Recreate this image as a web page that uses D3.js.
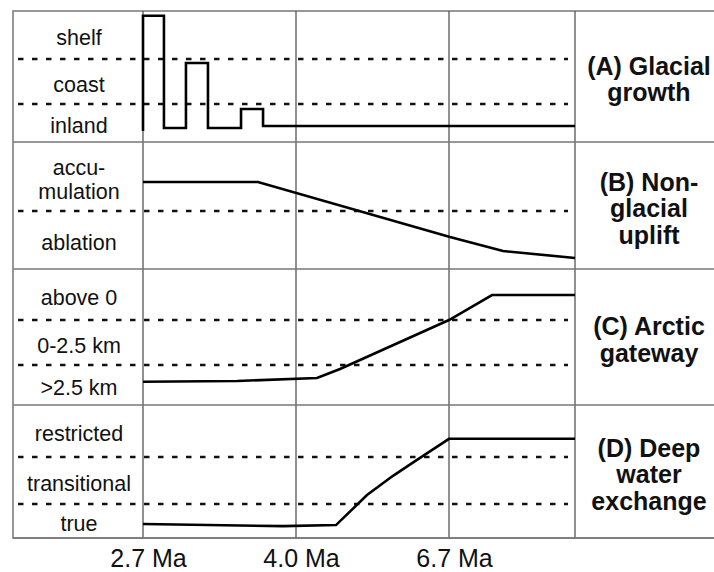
<!DOCTYPE html>
<html>
<head>
<meta charset="utf-8">
<script src="https://cdn.jsdelivr.net/npm/d3@7"></script>
<style>
  body { margin: 0; background: #fff; }
  text { font-family: "Liberation Sans", Arial, sans-serif; fill: #111; }
</style>
</head>
<body>
<script>
// age axis (Ma) - ticks are evenly spaced, not proportional
var tickAges = [2.7, 4.0, 6.7];
var endAge = 9.0;

// category labels per panel, bottom to top
var levelsA = [["inland"], ["coast"], ["shelf"]];
var levelsB = [["ablation"], ["accu-", "mulation"]];
var levelsC = [[">2.5 km"], ["0-2.5 km"], ["above 0"]];
var levelsD = [["true"], ["transitional"], ["restricted"]];

var titleA = ["(A) Glacial", "growth"];
var titleB = ["(B) Non-", "glacial", "uplift"];
var titleC = ["(C) Arctic", "gateway"];
var titleD = ["(D) Deep", "water", "exchange"];

// series (age in Ma, level in category units)
var glacialAge   = [2.7, 2.7, 2.878, 3.065, 3.252, 3.533, 3.72, 9.0];
var glacialLevel = [0.29, 2.9, 0.37, 1.91, 0.37, 0.87, 0.42, 0.42];

var upliftAge   = [2.7, 3.677, 6.718, 7.686, 9.0];
var upliftLevel = [1.42, 1.42, 0.55, 0.31, 0.19];

var gatewayAge   = [2.7, 3.499, 4.371, 4.777, 6.7, 7.485, 9.0];
var gatewayLevel = [0.58, 0.6, 0.675, 0.9, 2.0, 2.49, 2.49];

var exchangeAge   = [2.7, 3.89, 4.706, 5.253, 5.712, 6.135, 6.7, 9.0];
var exchangeLevel = [0.41, 0.35, 0.38, 1.19, 1.6, 1.94, 2.35, 2.35];

var svgWidth = 714;
var svgHeight = 572;

var frame = { left: 13, top: 11, right: 716, bottom: 538 };
var labelX = 79;
var titleX = 649;

var svg = d3.select("body").append("svg")
  .attr("width", svgWidth)
  .attr("height", svgHeight);

var x = d3.scaleLinear()
  .domain([2.7, 4.0, 6.7, endAge])
  .range([143, 296, 449, 575]);

// pixel cut positions of each panel: bottom, dashed lines..., top
var panels = [
  { levels: levelsA, title: titleA, age: glacialAge, level: glacialLevel, curve: d3.curveStepAfter, cuts: [142, 104, 59, 11] },
  { levels: levelsB, title: titleB, age: upliftAge, level: upliftLevel, curve: d3.curveLinear, cuts: [269, 211, 142] },
  { levels: levelsC, title: titleC, age: gatewayAge, level: gatewayLevel, curve: d3.curveLinear, cuts: [405, 365, 320, 269] },
  { levels: levelsD, title: titleD, age: exchangeAge, level: exchangeLevel, curve: d3.curveLinear, cuts: [538, 504, 457, 405] }
];

// frame
svg.append("rect")
  .attr("x", frame.left)
  .attr("y", frame.top)
  .attr("width", frame.right - frame.left)
  .attr("height", frame.bottom - frame.top)
  .attr("fill", "none")
  .attr("stroke", "#777")
  .attr("stroke-width", 1.5);

// vertical grid lines
svg.append("g").selectAll("line")
  .data(tickAges.concat([endAge]))
  .join("line")
  .attr("x1", d => x(d)).attr("x2", d => x(d))
  .attr("y1", frame.top).attr("y2", frame.bottom)
  .attr("stroke", "#555")
  .attr("stroke-width", 1.3);

panels.forEach(function(p) {
  var n = p.levels.length;
  var y = d3.scaleLinear()
    .domain(d3.range(n + 1))
    .range(p.cuts);
  var g = svg.append("g");

  // panel separator
  g.append("line")
    .attr("x1", frame.left).attr("x2", frame.right)
    .attr("y1", y(0)).attr("y2", y(0))
    .attr("stroke", "#777")
    .attr("stroke-width", 1.5);

  // dashed category boundaries
  g.selectAll(".dash")
    .data(d3.range(1, n))
    .join("line")
    .attr("class", "dash")
    .attr("x1", 18).attr("x2", 568)
    .attr("y1", d => y(d)).attr("y2", d => y(d))
    .attr("stroke", "#111")
    .attr("stroke-width", 2.5)
    .attr("stroke-dasharray", "5.5,8.5");

  // category labels
  p.levels.forEach(function(lines, i) {
    var c = (y(i) + y(i + 1)) / 2;
    var t = g.append("text")
      .attr("text-anchor", "middle")
      .attr("font-size", 21.5);
    lines.forEach(function(s, k) {
      t.append("tspan")
        .attr("x", labelX)
        .attr("y", c + 10 + (k - (lines.length - 1) / 2) * 24)
        .text(s);
    });
  });

  // panel title
  var mid = (p.cuts[0] + p.cuts[n]) / 2;
  var tt = g.append("text")
    .attr("text-anchor", "middle")
    .attr("font-size", 25)
    .attr("font-weight", "bold");
  p.title.forEach(function(s, k) {
    tt.append("tspan")
      .attr("x", titleX)
      .attr("y", mid + 11.5 + (k - (p.title.length - 1) / 2) * 26.5)
      .text(s);
  });

  // series line
  var pts = p.age.map((a, i) => [a, p.level[i]]);
  var line = d3.line()
    .x(d => x(d[0]))
    .y(d => y(d[1]))
    .curve(p.curve);
  g.append("path")
    .datum(pts)
    .attr("d", line)
    .attr("fill", "none")
    .attr("stroke", "#000")
    .attr("stroke-width", 2.6)
    .attr("stroke-linejoin", "miter");
});

// bottom axis
var axis = svg.append("g")
  .attr("transform", `translate(0, ${frame.bottom})`)
  .call(d3.axisBottom(x)
    .tickValues(tickAges)
    .tickSize(0)
    .tickPadding(11)
    .tickFormat(d => d.toFixed(1) + " Ma"));
axis.select(".domain").remove();
axis.selectAll("text")
  .attr("dx", 5)
  .attr("font-size", 25)
  .attr("font-family", "'Liberation Sans', Arial, sans-serif")
  .attr("fill", "#111");
</script>
</body>
</html>
